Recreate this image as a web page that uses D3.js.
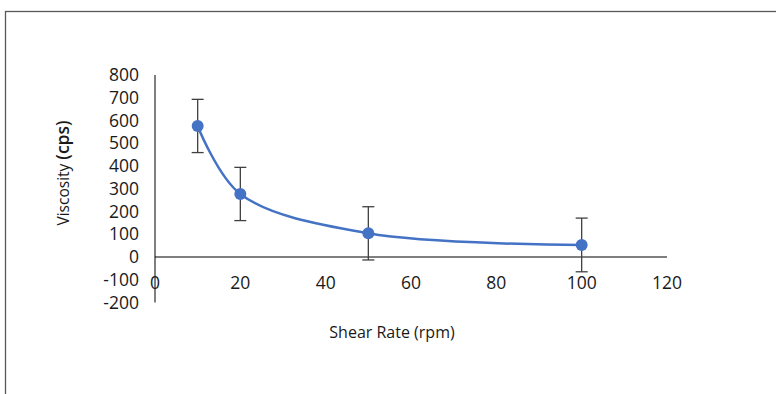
<!DOCTYPE html>
<html>
<head>
<meta charset="utf-8">
<script src="https://cdn.jsdelivr.net/npm/d3@7"></script>
<style>
  body { margin: 0; background: #fff; }
  svg text { font-family: "Open Sans", sans-serif; fill: #1a1a1a; }
</style>
</head>
<body>
<div id="chart"></div>
<script>
// data
var shearRate = [10, 20, 50, 100];
var viscosity = [576, 277, 104, 53];
var errorBar = [117, 117, 117, 118];
var xTicks = [0, 20, 40, 60, 80, 100, 120];
var yTicks = [-200, -100, 0, 100, 200, 300, 400, 500, 600, 700, 800];

var svg = d3.select("#chart").append("svg")
    .attr("width", 776)
    .attr("height", 394);

// outer chart frame (cut at right / bottom edge)
svg.append("rect")
    .attr("x", 5.5).attr("y", 11.5)
    .attr("width", 820).attr("height", 420)
    .attr("fill", "none")
    .attr("stroke", "#595959")
    .attr("stroke-width", 1.3);

var x = d3.scaleLinear().domain([0, 120]).range([155, 667]);
var y = d3.scaleLinear().domain([-200, 800]).range([302.5, 75]);

// axes lines
svg.append("line")
    .attr("x1", x(0)).attr("x2", x(0))
    .attr("y1", y(800)).attr("y2", y(-200))
    .attr("stroke", "#000").attr("stroke-width", 1);
svg.append("line")
    .attr("x1", x(0)).attr("x2", x(120))
    .attr("y1", y(0)).attr("y2", y(0))
    .attr("stroke", "#000").attr("stroke-width", 1);

// y tick labels
svg.selectAll(".ylab")
    .data(yTicks)
    .enter().append("text")
    .attr("class", "ylab")
    .attr("x", 139)
    .attr("y", function (d) { return y(d); })
    .attr("dy", "0.35em")
    .attr("text-anchor", "end")
    .style("font-size", "17.5px")
    .text(function (d) { return d; });

// x tick labels (sit at bottom of plot area)
svg.selectAll(".xlab")
    .data(xTicks)
    .enter().append("text")
    .attr("class", "xlab")
    .attr("x", function (d) { return x(d); })
    .attr("y", 283)
    .attr("dy", "0.35em")
    .attr("text-anchor", "middle")
    .style("font-size", "17.5px")
    .text(function (d) { return d; });

// axis titles
svg.append("text")
    .attr("x", 392).attr("y", 332)
    .attr("dy", "0.35em")
    .attr("text-anchor", "middle")
    .style("font-size", "16px")
    .text("Shear Rate (rpm)");

var yt = svg.append("text")
    .attr("transform", "translate(64,173) rotate(-90)")
    .attr("dy", "0.35em")
    .attr("text-anchor", "middle")
    .style("font-size", "15.5px");
yt.append("tspan").text("Viscosity ");
yt.append("tspan").style("font-size", "17.5px").style("font-weight", 600).text("(cps)");

var pts = shearRate.map(function (d, i) {
    return {x: d, y: viscosity[i], e: errorBar[i]};
});

// error bars
var eb = svg.selectAll(".err")
    .data(pts)
    .enter().append("g")
    .attr("class", "err")
    .attr("stroke", "#404040")
    .attr("stroke-width", 1.3);
eb.append("line")
    .attr("x1", function (d) { return x(d.x); })
    .attr("x2", function (d) { return x(d.x); })
    .attr("y1", function (d) { return y(d.y + d.e); })
    .attr("y2", function (d) { return y(d.y - d.e); });
eb.append("line")
    .attr("x1", function (d) { return x(d.x) - 6; })
    .attr("x2", function (d) { return x(d.x) + 6; })
    .attr("y1", function (d) { return y(d.y + d.e); })
    .attr("y2", function (d) { return y(d.y + d.e); });
eb.append("line")
    .attr("x1", function (d) { return x(d.x) - 6; })
    .attr("x2", function (d) { return x(d.x) + 6; })
    .attr("y1", function (d) { return y(d.y - d.e); })
    .attr("y2", function (d) { return y(d.y - d.e); });

// smoothed line
var line = d3.line()
    .x(function (d) { return x(d.x); })
    .y(function (d) { return y(d.y); })
    .curve(d3.curveCatmullRom.alpha(0.5));

svg.append("path")
    .datum(pts)
    .attr("d", line)
    .attr("fill", "none")
    .attr("stroke", "#4472C4")
    .attr("stroke-width", 2.5);

svg.selectAll(".dot")
    .data(pts)
    .enter().append("circle")
    .attr("class", "dot")
    .attr("cx", function (d) { return x(d.x); })
    .attr("cy", function (d) { return y(d.y); })
    .attr("r", 6)
    .attr("fill", "#4472C4");
</script>
</body>
</html>
